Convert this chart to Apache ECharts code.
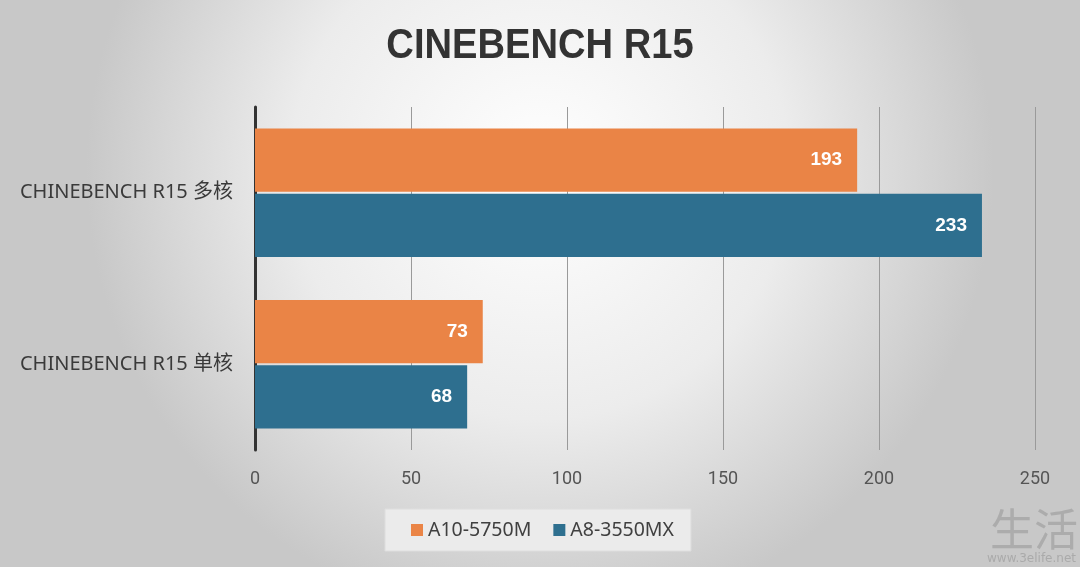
<!DOCTYPE html>
<html><head><meta charset="utf-8">
<script src="https://cdn.jsdelivr.net/npm/echarts@6/dist/echarts.min.js"></script>
<style>html,body{margin:0;padding:0;}#c{width:1080px;height:567px;}</style>
</head><body><div id="c"></div>
<script>
const titleText = 'CINEBENCH R15';
const categories = ['CHINEBENCH R15 单核', 'CHINEBENCH R15 多核'];
const seriesNames = ['A10-5750M', 'A8-3550MX'];
const a10Values = [73, 193];
const a8Values = [68, 233];
const xTicks = [0, 50, 100, 150, 200, 250];

const chart = echarts.init(document.getElementById('c'));
const labelStyle = {show: true, position: 'insideRight', distance: 15, color: '#ffffff', fontWeight: 'bold', fontSize: 19, fontFamily: 'Liberation Sans'};
chart.setOption({
  backgroundColor: {type: 'radial', x: 0.5, y: 0.3, r: 0.8, colorStops: [{offset: 0, color: '#ffffff'}, {offset: 0.55, color: '#ececec'}, {offset: 1, color: '#c8c8c8'}]},
  legend: {bottom: 16, left: 385, itemWidth: 12, itemHeight: 12, itemGap: 22, icon: 'rect', backgroundColor: '#ebebeb', borderColor: '#dedede', borderWidth: 1, padding: [11, 17, 11, 26], textStyle: {fontSize: 19.5, color: '#404040', fontFamily: 'Noto Sans'}, data: seriesNames},
  grid: {left: 255, right: 45, top: 107, bottom: 117},
  xAxis: {type: 'value', min: xTicks[0], max: xTicks[xTicks.length - 1], interval: 50,
    axisLine: {show: false}, axisTick: {show: false},
    splitLine: {show: true, lineStyle: {color: '#9a9a9a', width: 1}},
    axisLabel: {fontSize: 18, color: '#555555', margin: 20, fontFamily: 'Roboto'}},
  yAxis: {type: 'category', data: categories,
    axisLine: {show: true, lineStyle: {color: '#333333', width: 3}}, axisTick: {show: false},
    axisLabel: {fontSize: 20, color: '#3a3a3a', margin: 22, fontFamily: 'Noto Sans, Noto Sans CJK SC'}},
  series: [
    {name: seriesNames[0], type: 'bar', data: a10Values, itemStyle: {color: '#EA8446'}, barGap: '3%', barCategoryGap: '25%', label: labelStyle},
    {name: seriesNames[1], type: 'bar', data: a8Values, itemStyle: {color: '#2E6F8F'}, label: labelStyle}
  ],
  graphic: [
    {type: 'text', x: 540, y: 46, scaleX: 0.887, style: {text: titleText, fontSize: 43, fontWeight: 'bold', fill: '#333333', fontFamily: 'Liberation Sans', align: 'center', verticalAlign: 'middle'}},
    {type: 'text', right: 2, bottom: 16, style: {text: '生活', fontSize: 44, fill: 'rgba(150,150,150,0.55)', fontFamily: 'Noto Sans CJK SC'}},
    {type: 'text', right: 4, bottom: 2, style: {text: 'www.3elife.net', fontSize: 12, fill: 'rgba(150,150,150,0.6)', fontFamily: 'DejaVu Sans'}}
  ]
});
</script></body></html>
